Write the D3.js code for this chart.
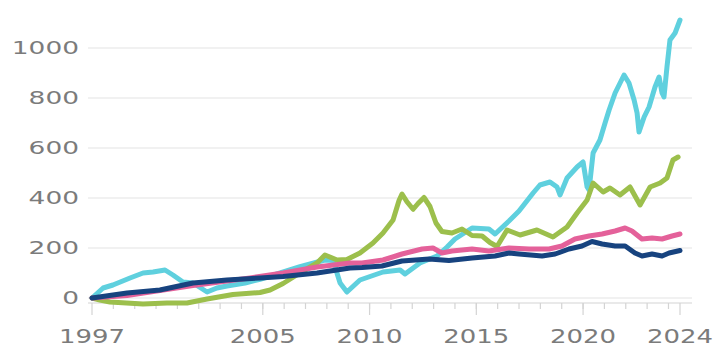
<!DOCTYPE html>
<html>
<head>
<meta charset="utf-8">
<script src="https://cdn.jsdelivr.net/npm/d3@7"></script>
<style>
  html, body { margin: 0; padding: 0; background: #fff; }
  svg { display: block; }
</style>
</head>
<body>
<div id="chart"></div>
<script>
// [decimal year, value] pairs
var cyanSeries = [
  [1997.0, 0], [1997.52, 40], [1997.98, 52], [1998.78, 80], [1999.39, 100], [1999.86, 104],
  [2000.42, 112], [2000.79, 92], [2001.26, 64], [2001.73, 60], [2002.39, 24], [2002.85, 40],
  [2003.32, 48], [2004.17, 60], [2004.87, 75], [2005.81, 100], [2006.74, 125], [2007.91, 152],
  [2008.29, 150], [2008.62, 60], [2008.94, 24], [2009.55, 72], [2010.63, 104], [2011.43, 112],
  [2011.66, 96], [2012.36, 140], [2013.16, 168], [2013.63, 204], [2014.0, 236], [2014.8, 280],
  [2015.59, 276], [2015.88, 256], [2016.53, 308], [2017.0, 348], [2017.66, 420], [2017.98, 452],
  [2018.45, 464], [2018.78, 444], [2018.92, 412], [2019.25, 480], [2019.72, 524], [2020.0, 544],
  [2020.19, 444], [2020.28, 432], [2020.47, 580], [2020.79, 632], [2021.03, 700], [2021.22, 752],
  [2021.5, 820], [2021.92, 892], [2022.15, 860], [2022.39, 792], [2022.53, 740], [2022.62, 664],
  [2022.86, 724], [2023.09, 764], [2023.37, 844], [2023.56, 884], [2023.7, 820], [2023.79, 804],
  [2023.93, 924], [2024.07, 1032], [2024.31, 1060], [2024.54, 1112]
];
var greenSeries = [
  [1997.0, 0], [1997.37, -8], [1997.84, -16], [1999.39, -24], [2000.51, -20], [2001.45, -20],
  [2002.39, -4], [2003.6, 14], [2004.87, 22], [2005.34, 32], [2005.95, 58], [2006.74, 100],
  [2007.54, 140], [2007.91, 172], [2008.48, 152], [2008.94, 154], [2009.55, 180], [2010.16, 220],
  [2010.63, 260], [2011.1, 312], [2011.38, 390], [2011.52, 416], [2011.75, 385], [2012.04, 355],
  [2012.27, 378], [2012.55, 402], [2012.83, 366], [2013.11, 300], [2013.39, 266], [2013.86, 260],
  [2014.33, 276], [2014.8, 250], [2015.27, 248], [2015.64, 222], [2015.97, 206], [2016.44, 272],
  [2017.05, 252], [2017.84, 272], [2018.59, 244], [2019.25, 284], [2019.72, 340], [2020.19, 392],
  [2020.47, 460], [2020.94, 424], [2021.26, 440], [2021.73, 412], [2022.2, 444], [2022.67, 372],
  [2023.14, 444], [2023.61, 460], [2023.93, 480], [2024.21, 552], [2024.45, 564]
];
var pinkSeries = [
  [1997.0, 0], [1998.64, 10], [2000.18, 30], [2001.73, 50], [2003.32, 68], [2004.4, 80],
  [2005.95, 100], [2007.54, 124], [2009.08, 140], [2009.65, 140], [2010.63, 152], [2011.52, 176],
  [2012.46, 196], [2012.97, 200], [2013.39, 180], [2013.86, 188], [2014.8, 196], [2015.59, 188],
  [2016.53, 200], [2017.47, 196], [2018.41, 196], [2019.01, 208], [2019.62, 236], [2020.28, 248],
  [2020.89, 256], [2021.5, 268], [2021.97, 280], [2022.29, 268], [2022.76, 236], [2023.23, 240],
  [2023.7, 236], [2024.17, 248], [2024.54, 256]
];
var navySeries = [
  [1997.0, 0], [1998.64, 20], [2000.18, 32], [2001.73, 60], [2003.32, 72], [2004.87, 80],
  [2005.95, 86], [2007.54, 100], [2009.08, 120], [2009.65, 122], [2010.58, 128], [2011.52, 148],
  [2012.79, 156], [2013.72, 150], [2014.8, 160], [2015.88, 168], [2016.53, 180], [2017.0, 176],
  [2018.08, 168], [2018.69, 176], [2019.34, 196], [2019.95, 208], [2020.42, 226], [2020.89, 216],
  [2021.5, 208], [2021.97, 208], [2022.43, 180], [2022.76, 168], [2023.23, 176], [2023.7, 168],
  [2024.03, 180], [2024.54, 190]
];

var yTicks = [0, 200, 400, 600, 800, 1000];
var xMajorTicks = [1997, 2005, 2010, 2015, 2020, 2024.54];
var xMajorLabels = ["1997", "2005", "2010", "2015", "2020", "2024"];
var xMinorTicks = d3.range(1998, 2025);

var seriesList = [
  {name: "cyan", values: cyanSeries, color: "#5fd0de"},
  {name: "green", values: greenSeries, color: "#9cbf4c"},
  {name: "pink", values: pinkSeries, color: "#e4619a"},
  {name: "navy", values: navySeries, color: "#17437f"}
];

var width = 724,
    height = 362,
    gridLeft = 88,
    gridRight = 692,
    axisY = 303,
    labelColor = "#7b7b7b",
    fontFamily = "'DejaVu Sans', sans-serif";

var svg = d3.select("#chart").append("svg")
    .attr("width", width)
    .attr("height", height);

var x = d3.scaleLinear().domain([1997, 2024.54]).range([92, 680]),
    y = d3.scaleLinear().domain([0, 1000]).range([298, 48]);

// gridlines
svg.append("g").selectAll("line")
    .data(yTicks)
    .join("line")
    .attr("x1", gridLeft).attr("x2", gridRight)
    .attr("y1", function (d) { return y(d); })
    .attr("y2", function (d) { return y(d); })
    .attr("stroke", "#ececec")
    .attr("stroke-width", 1.5);

// y labels
svg.append("g").selectAll("text")
    .data(yTicks)
    .join("text")
    .attr("x", 79)
    .attr("y", function (d) { return y(d); })
    .attr("dy", "0.36em")
    .attr("text-anchor", "end")
    .attr("fill", labelColor)
    .attr("font-family", fontFamily)
    .attr("font-size", 18)
    .attr("textLength", function (d) { return String(d).length * 16.8; })
    .attr("lengthAdjust", "spacingAndGlyphs")
    .text(function (d) { return d; });

// x axis baseline and ticks
svg.append("line")
    .attr("x1", gridLeft).attr("x2", gridRight)
    .attr("y1", axisY).attr("y2", axisY)
    .attr("stroke", "#e2e2e2")
    .attr("stroke-width", 1.5);

svg.append("g").selectAll("line")
    .data(xMinorTicks)
    .join("line")
    .attr("x1", function (d) { return x(d); })
    .attr("x2", function (d) { return x(d); })
    .attr("y1", axisY).attr("y2", axisY + 6)
    .attr("stroke", "#d4d4d4")
    .attr("stroke-width", 1.2);

svg.append("g").selectAll("line")
    .data(xMajorTicks)
    .join("line")
    .attr("x1", function (d) { return x(d); })
    .attr("x2", function (d) { return x(d); })
    .attr("y1", axisY).attr("y2", axisY + 12)
    .attr("stroke", "#d4d4d4")
    .attr("stroke-width", 1.2);

svg.append("g").selectAll("text")
    .data(xMajorTicks)
    .join("text")
    .attr("x", function (d) { return x(d); })
    .attr("y", 343)
    .attr("text-anchor", "middle")
    .attr("fill", labelColor)
    .attr("font-family", fontFamily)
    .attr("font-size", 19)
    .attr("textLength", 66)
    .attr("lengthAdjust", "spacingAndGlyphs")
    .text(function (d, i) { return xMajorLabels[i]; });

// series lines
var line = d3.line()
    .x(function (d) { return x(d[0]); })
    .y(function (d) { return y(d[1]); });

svg.append("g").selectAll("path")
    .data(seriesList)
    .join("path")
    .attr("fill", "none")
    .attr("stroke", function (d) { return d.color; })
    .attr("stroke-width", 5)
    .attr("stroke-linejoin", "round")
    .attr("stroke-linecap", "round")
    .attr("d", function (d) { return line(d.values); });
</script>
</body>
</html>
